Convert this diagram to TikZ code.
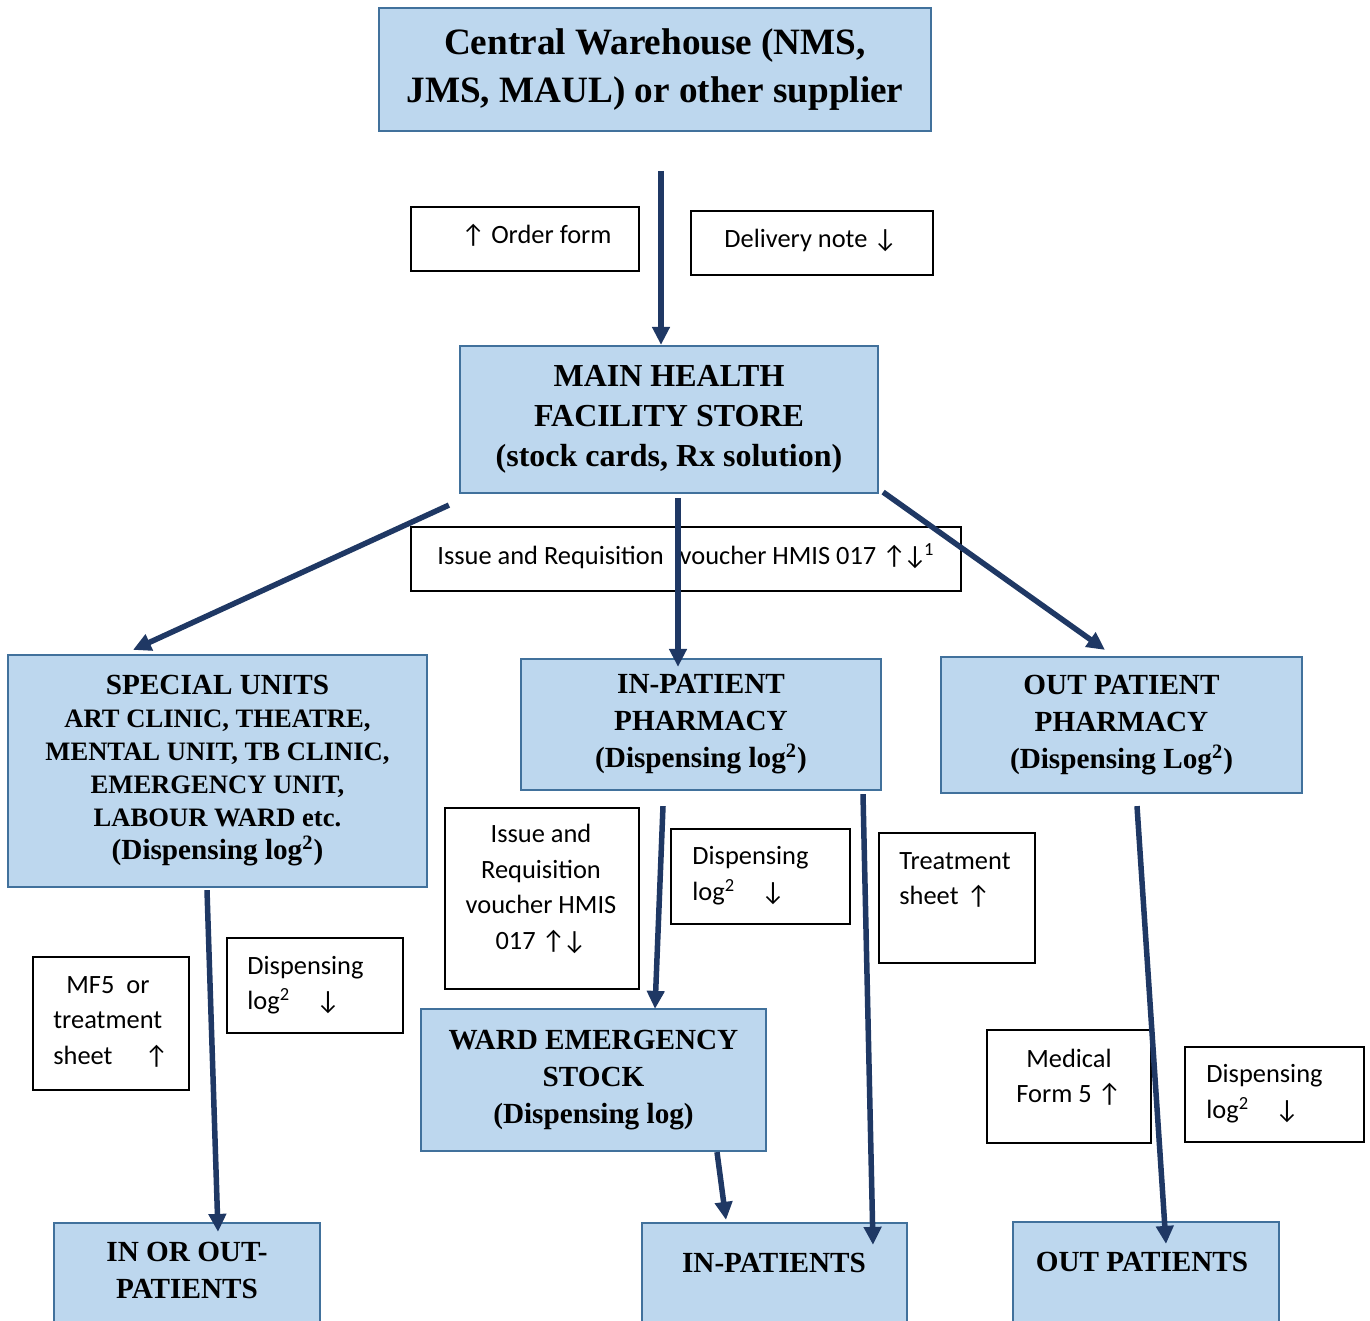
\documentclass[tikz,border=0pt]{standalone}
\usepackage{fontspec}
\setmainfont{Liberation Serif}
\newfontfamily\labfont{Carlito}
\usetikzlibrary{arrows.meta,calc}

\definecolor{boxfill}{RGB}{189,215,238}
\definecolor{boxline}{RGB}{65,113,156}
\definecolor{flow}{RGB}{31,56,100}

\tikzset{
  bluebox/.style={draw=boxline, fill=boxfill, line width=1.1pt, inner sep=0pt,
    align=center},
  bold146/.style={font=\bfseries\fontsize{14.6}{18.5}\selectfont},
  notebox/.style={draw=black, fill=white, line width=1pt, inner sep=0pt},
  notetext/.style={font=\labfont\fontsize{13.2}{17.75}\selectfont, inner sep=0pt},
  flowline/.style={draw=flow, line width=2.75pt, -{Triangle[width=8.5pt,length=9pt]}},
}

\begin{document}
\begin{tikzpicture}[x=0.5pt, y=-0.5pt]
\path[use as bounding box] (0,0) rectangle (1370,1321);
\clip (0,0) rectangle (1370,1321);

% ---- supply chain boxes ----
\node[bluebox, minimum width=276pt, minimum height=61.5pt,
  font=\bfseries\fontsize{18.6}{24}\selectfont] (cw) at (655,69.5)
  {Central Warehouse (NMS,\\JMS, MAUL) or other supplier};

\node[bluebox, minimum width=209pt, minimum height=73.5pt,
  font=\bfseries\fontsize{16}{20}\selectfont] (store) at (669,419.5)
  {MAIN HEALTH\\FACILITY STORE\\(stock cards, Rx solution)};

\node[bluebox, minimum width=209.5pt, minimum height=116pt,
  font=\bfseries\fontsize{13.3}{16.5}\selectfont] (special) at (217.5,771)
  {{\fontsize{14.6}{17.5}\selectfont SPECIAL UNITS}\\ART CLINIC, THEATRE,\\MENTAL UNIT, TB CLINIC,\\EMERGENCY UNIT,\\LABOUR WARD etc.\\{\fontsize{14.6}{17.5}\selectfont (Dispensing log\textsuperscript{2})}};

\node[bluebox, bold146, minimum width=180pt, minimum height=65.5pt] (inpharm) at (701,724.5)
  {IN-PATIENT\\PHARMACY\\(Dispensing log\textsuperscript{2})};

\node[bluebox, bold146, minimum width=180.5pt, minimum height=68pt] (outpharm) at (1121.5,725)
  {OUT PATIENT\\PHARMACY\\(Dispensing Log\textsuperscript{2})};

\node[bluebox, bold146, minimum width=172.5pt, minimum height=71pt] (ward) at (593.5,1080)
  {WARD EMERGENCY\\STOCK\\(Dispensing log)};

\node[bluebox, minimum width=133pt, minimum height=88.5pt] (inout) at (187,1311.5) {};
\node[bold146, align=center, inner sep=0pt] (inoutT) at (187,1270) {IN OR OUT-\\PATIENTS};

\node[bluebox, minimum width=132.5pt, minimum height=88.5pt] (inpat) at (774.5,1311.5) {};
\node[bold146, inner sep=0pt] (inpatT) at (774,1263) {IN-PATIENTS};

\node[bluebox, minimum width=133pt, minimum height=89pt] (outpat) at (1146,1311) {};
\node[bold146, inner sep=0pt] (outpatT) at (1142,1262) {OUT PATIENTS};

% ---- document notes ----
\node[notebox, minimum width=114pt, minimum height=32pt] (order) at (525,239) {};
\node[notetext, anchor=base west] (orderT) at (461,244) {↑ Order form};

\node[notebox, minimum width=121pt, minimum height=32pt] (deliv) at (812,243) {};
\node[notetext, anchor=base west] (delivT) at (724,248) {Delivery note ↓};

\node[notebox, minimum width=275pt, minimum height=32pt] (irv) at (686,559) {};
\node[notetext, anchor=base] (irvT) at (686,564)
  {Issue and Requisition\hspace{8pt}voucher HMIS 017 ↑\kern-1.5pt↓\kern-1.5pt\textsuperscript{1}};

\node[notebox, minimum width=97pt, minimum height=90.5pt] (irv2) at (542,898.5) {};
\node[notetext, align=center] (irv2T) at (541,889)
  {Issue and\\Requisition\\voucher HMIS\\017 ↑\kern-1.5pt↓};

\node[notebox, minimum width=89.5pt, minimum height=47.5pt] (disp1) at (760.5,876.5) {};
\node[notetext, align=left, anchor=west] (disp1T) at (692,875.5)
  {Dispensing\\log\textsuperscript{2}\hspace{13pt}↓};

\node[notebox, minimum width=78pt, minimum height=65pt] (treat) at (957,898) {};
\node[notetext, align=left, anchor=west] (treatT) at (899,880)
  {Treatment\\sheet\hspace{4pt}↑};

\node[notebox, minimum width=78pt, minimum height=66.5pt] (mf5) at (111,1023.5) {};
\node[notetext, align=left, anchor=west] (mf5T) at (53,1021.5)
  {\hspace*{6.5pt}MF5\hspace{6pt}or\\treatment\\sheet\hspace{16pt}↑};

\node[notebox, minimum width=88pt, minimum height=47.5pt] (disp2) at (315,985.5) {};
\node[notetext, align=left, anchor=west] (disp2T) at (247,985)
  {Dispensing\\log\textsuperscript{2}\hspace{13pt}↓};

\node[notebox, minimum width=82pt, minimum height=56.5pt] (med) at (1069,1086.5) {};
\node[notetext, align=center] (medT) at (1069,1077)
  {Medical\\Form 5 ↑};

\node[notebox, minimum width=89.5pt, minimum height=47.5pt] (disp3) at (1274.5,1094.5) {};
\node[notetext, align=left, anchor=west] (disp3T) at (1206,1093.5)
  {Dispensing\\log\textsuperscript{2}\hspace{13pt}↓};

% ---- flow arrows ----
\coordinate (supplyIn) at (661,171);
\draw[flowline] (supplyIn) -- (supplyIn |- store.north);

\draw[flowline] ($(store.south west)+(-10,11)$) -- ($(special.north)+(-84.5,-4)$);
\coordinate (toInpharm) at ($(store.south)+(9,4)$);
\draw[flowline] (toInpharm) -- ($(toInpharm |- inpharm.north)+(0,9)$);
\draw[flowline] ($(store.south east)+(4,-2)$) -- ($(outpharm.north)+(-16.5,-6)$);

\draw[flowline] ($(special.south)+(-10.5,2)$) -- ($(inout.north)+(31,10)$);
\draw[flowline] ($(inpharm.south)+(-38,15)$) -- ($(ward.north)+(61.5,1)$);
\draw[flowline] ($(inpharm.south)+(162,3)$) -- ($(inpat.north)+(98.5,23)$);
\draw[flowline] ($(ward.south)+(123.5,0)$) -- ($(inpat.north)+(-48.5,-2)$);
\draw[flowline] ($(outpharm.south)+(15.5,12)$) -- ($(outpat.north)+(20,23)$);
\end{tikzpicture}
\end{document}
